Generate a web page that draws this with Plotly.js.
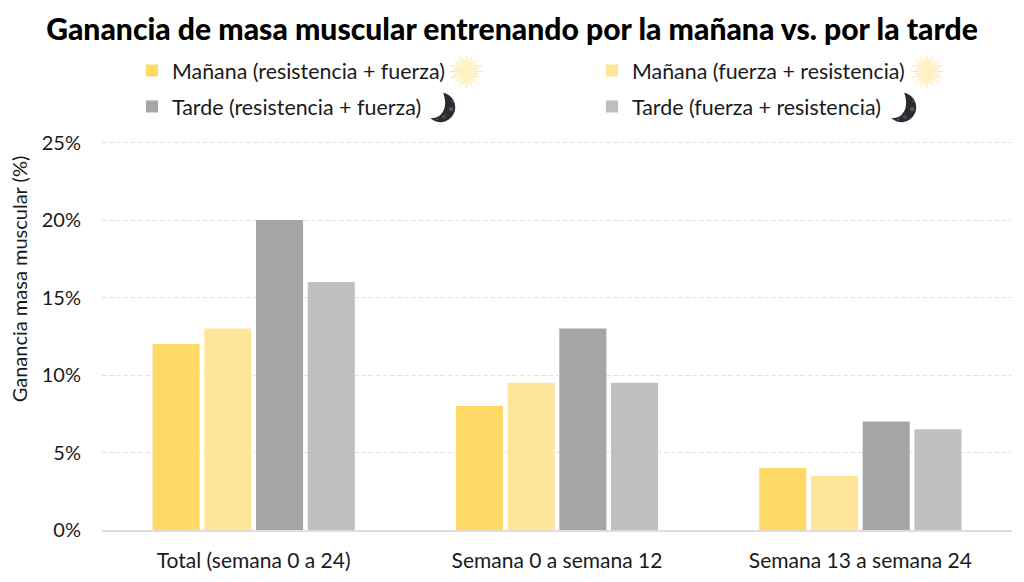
<!DOCTYPE html>
<html><head><meta charset="utf-8">
<script src="https://cdn.plot.ly/plotly-3.0.1.min.js"></script>
<style>html,body{margin:0;padding:0;background:#fff}</style></head><body>
<div id="chart" style="width:1024px;height:582px"></div>
<script>
const categories = ["Total (semana 0 a 24)", "Semana 0 a semana 12", "Semana 13 a semana 24"];
const mananaResFue = [12, 8, 4];
const mananaFueRes = [13, 9.5, 3.5];
const tardeResFue = [20, 13, 7];
const tardeFueRes = [16, 9.5, 6.5];
const seriesNames = ["Mañana (resistencia + fuerza)", "Mañana (fuerza + resistencia)", "Tarde (resistencia + fuerza)", "Tarde (fuerza + resistencia)"];
const seriesColors = ["#FFD966", "#FFE599", "#A6A6A6", "#BFBFBF"];
const yTicks = [0, 5, 10, 15, 20, 25];
const yLabels = ["0%", "5%", "10%", "15%", "20%", "25%"];
const allValues = [mananaResFue, mananaFueRes, tardeResFue, tardeFueRes];
const legendIds = ["legend", "legend2", "legend3", "legend4"];

function sunIcon() {
  let rays = "";
  for (let i = 0; i < 32; i++) {
    const len = i % 2 ? 37 : 48;
    const a = i * Math.PI / 16;
    rays += `<line x1="50" y1="50" x2="${50 + len * Math.cos(a)}" y2="${50 + len * Math.sin(a)}" stroke="#FFDF85" stroke-width="2.6"/>`;
  }
  let dots = "";
  for (let dx = -20; dx <= 20; dx += 5) for (let dy = -20; dy <= 20; dy += 5)
    if (dx * dx + dy * dy < 420) dots += `<circle cx="${50 + dx}" cy="${50 + dy}" r="1.1" fill="#FFDF85"/>`;
  return `<svg xmlns="http://www.w3.org/2000/svg" width="100" height="100" viewBox="0 0 100 100">${rays}<circle cx="50" cy="50" r="25" fill="#FFF3C9"/>${dots}</svg>`;
}
function moonIcon() {
  return `<svg xmlns="http://www.w3.org/2000/svg" width="100" height="100" viewBox="0 0 100 100"><path d="M44 2 A48 48 0 1 1 2 84 C40 88 62 50 44 2 Z" fill="#2B2C32"/><circle cx="70" cy="55" r="7" fill="#5A5B63"/><circle cx="46" cy="80" r="6" fill="#4D4E56"/><circle cx="74" cy="30" r="4" fill="#4D4E56"/><circle cx="25" cy="88" r="3" fill="#5A5B63"/></svg>`;
}
const uri = s => "data:image/svg+xml;utf8," + encodeURIComponent(s);
const iconBase = {xref: "paper", yref: "paper", sizing: "contain", xanchor: "center", yanchor: "middle", layer: "above"};
const plotW = 910, plotH = 403.5;
const px = x => (x - 102) / plotW, py = y => (530 - y) / plotH;
const legendSpot = [[132, 70], [592, 70], [132, 106], [592, 106]];

const data = allValues.map((v, i) => ({
  type: "bar", x: categories, y: v, name: seriesNames[i], legend: legendIds[i],
  marker: {color: seriesColors[i]}, hoverinfo: "x+y+name"
}));
const layout = {
  width: 1024, height: 582,
  margin: {l: 102, r: 12, t: 126.5, b: 52},
  paper_bgcolor: "#fff", plot_bgcolor: "#fff",
  font: {family: "Lato, sans-serif", size: 20, color: "#1a1a1a"},
  title: {text: "Ganancia de masa muscular entrenando por la mañana vs. por la tarde",
    font: {family: "Lato, sans-serif", size: 30.1, color: "#000", weight: 900},
    x: 0.5, xref: "container", xanchor: "center", y: 0.95, yanchor: "middle", automargin: false},
  barmode: "group", bargap: 0.318, bargroupgap: 0.09,
  showlegend: true,
  xaxis: {type: "category", range: [-0.5, 2.5], showgrid: false, showline: true, linecolor: "#dddddd", linewidth: 1.5, ticks: "", tickfont: {size: 21}, ticklabelstandoff: 11, fixedrange: true},
  yaxis: {range: [0, 26], tickvals: yTicks, ticktext: yLabels, showgrid: true, gridcolor: "#e2e2e2", griddash: "4.5px,2.7px", gridwidth: 1.2, zeroline: false, ticks: "", tickfont: {size: 20}, ticklabelstandoff: 20, fixedrange: true},
  annotations: [{text: "Ganancia masa muscular (%)", textangle: -90, showarrow: false, xref: "paper", yref: "paper",
    x: px(19), y: py(279), xanchor: "center", yanchor: "middle", font: {size: 20, color: "#1a1a1a"}}],
  images: [
    {...iconBase, source: uri(sunIcon()), x: px(466), y: py(71), sizex: 34 / plotW, sizey: 34 / plotH},
    {...iconBase, source: uri(sunIcon()), x: px(927), y: py(71), sizex: 34 / plotW, sizey: 34 / plotH},
    {...iconBase, source: uri(moonIcon()), x: px(445), y: py(107), sizex: 31 / plotW, sizey: 31 / plotH},
    {...iconBase, source: uri(moonIcon()), x: px(906), y: py(107), sizex: 31 / plotW, sizey: 31 / plotH}
  ]
};
legendIds.forEach((id, i) => {
  layout[id] = {x: px(legendSpot[i][0]), xanchor: "left", y: py(legendSpot[i][1]), yanchor: "middle",
    font: {size: 21.4, color: "#1a1a1a"}, bgcolor: "rgba(0,0,0,0)", borderwidth: 0};
});
Plotly.newPlot("chart", data, layout, {displayModeBar: false});
</script></body></html>
